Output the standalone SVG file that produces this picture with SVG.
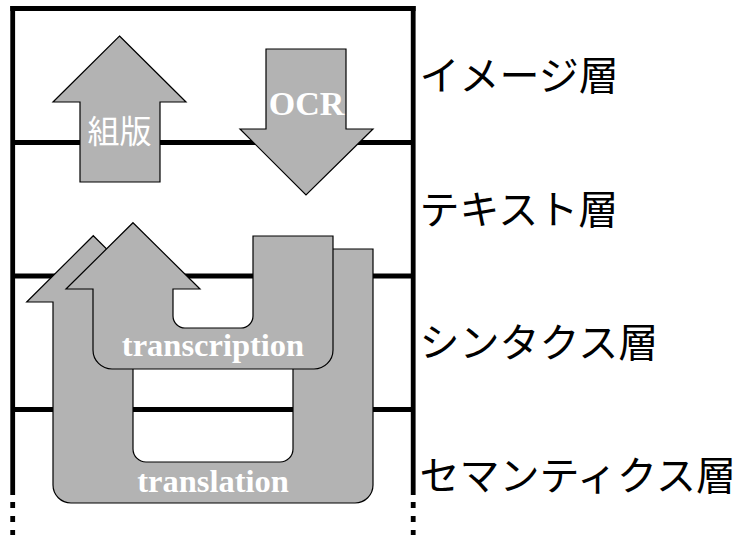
<svg xmlns="http://www.w3.org/2000/svg" width="741" height="535" viewBox="0 0 741 535">
<style>
.frame{stroke:#000;stroke-width:4.8;fill:none}
.dash{stroke:#000;stroke-width:4.8;fill:none;stroke-dasharray:6 8}
.arrow{fill:#b3b3b3;stroke:#000;stroke-width:1.2;stroke-linejoin:miter}
.lbl{font-family:"Liberation Serif","Times New Roman",serif;font-weight:bold;fill:#fff;text-anchor:middle}
.jlbl{font-family:"Noto Sans CJK JP","Noto Sans CJK SC",sans-serif;fill:#fff;text-anchor:middle}
.layer{font-family:"Noto Sans CJK JP","Noto Sans CJK SC",sans-serif;font-size:40px;fill:#000}
</style>
<rect width="741" height="535" fill="#fff"/>
<g id="frame">
<line class="frame" x1="12.7" y1="6.1" x2="12.7" y2="495"/>
<line class="frame" x1="413.2" y1="6.1" x2="413.2" y2="495"/>
<line class="frame" x1="10.3" y1="8.5" x2="415.6" y2="8.5"/>
<line class="frame" x1="12.7" y1="142.5" x2="413.2" y2="142.5"/>
<line class="frame" x1="12.7" y1="276" x2="413.2" y2="276"/>
<line class="frame" x1="12.7" y1="409.5" x2="413.2" y2="409.5"/>
<line class="dash" x1="12.7" y1="502" x2="12.7" y2="535"/>
<line class="dash" x1="413.2" y1="502" x2="413.2" y2="535"/>
</g>
<g id="connectors">
<g id="translation">
<path class="arrow" d="M93.3,235.7 L160,302 L133,302 L133,449 A13,13 0 0 0 146,462 L280,462 A13,13 0 0 0 293,449 L293,249 L373,249 L373,485 A18,18 0 0 1 355,503 L71,503 A18,18 0 0 1 53,485 L53,302 L26.7,302 Z"/>
<text class="lbl" x="213" y="491.5" font-size="32.5">translation</text>
</g>
<g id="transcription">
<path class="arrow" d="M133,222.7 L200,289 L173,289 L173,316 A12,12 0 0 0 185,328 L241,328 A12,12 0 0 0 253,316 L253,236 L333,236 L333,350 A19,19 0 0 1 314,369 L112,369 A19,19 0 0 1 93,350 L93,289 L66,289 Z"/>
<text class="lbl" x="213" y="355.5" font-size="32.5">transcription</text>
</g>
<g id="kumihan">
<path class="arrow" d="M119.5,36 L186,102 L160,102 L160,182 L80,182 L80,102 L53,102 Z"/>
<text class="jlbl" x="119.5" y="143" font-size="32">組版</text>
</g>
<g id="ocr">
<path class="arrow" d="M266,49 L346,49 L346,129 L373,129 L306,195 L240,129 L266,129 Z"/>
<text class="lbl" x="306.5" y="114.5" font-size="34">OCR</text>
</g>
</g>
<g id="layer-image"><text class="layer" x="419.5" y="90">イメージ層</text></g>
<g id="layer-text"><text class="layer" x="419.5" y="223.5">テキスト層</text></g>
<g id="layer-syntax"><text class="layer" x="419.5" y="357">シンタクス層</text></g>
<g id="layer-semantics"><text class="layer" x="419.5" y="490">セマンティクス層</text></g>
</svg>
